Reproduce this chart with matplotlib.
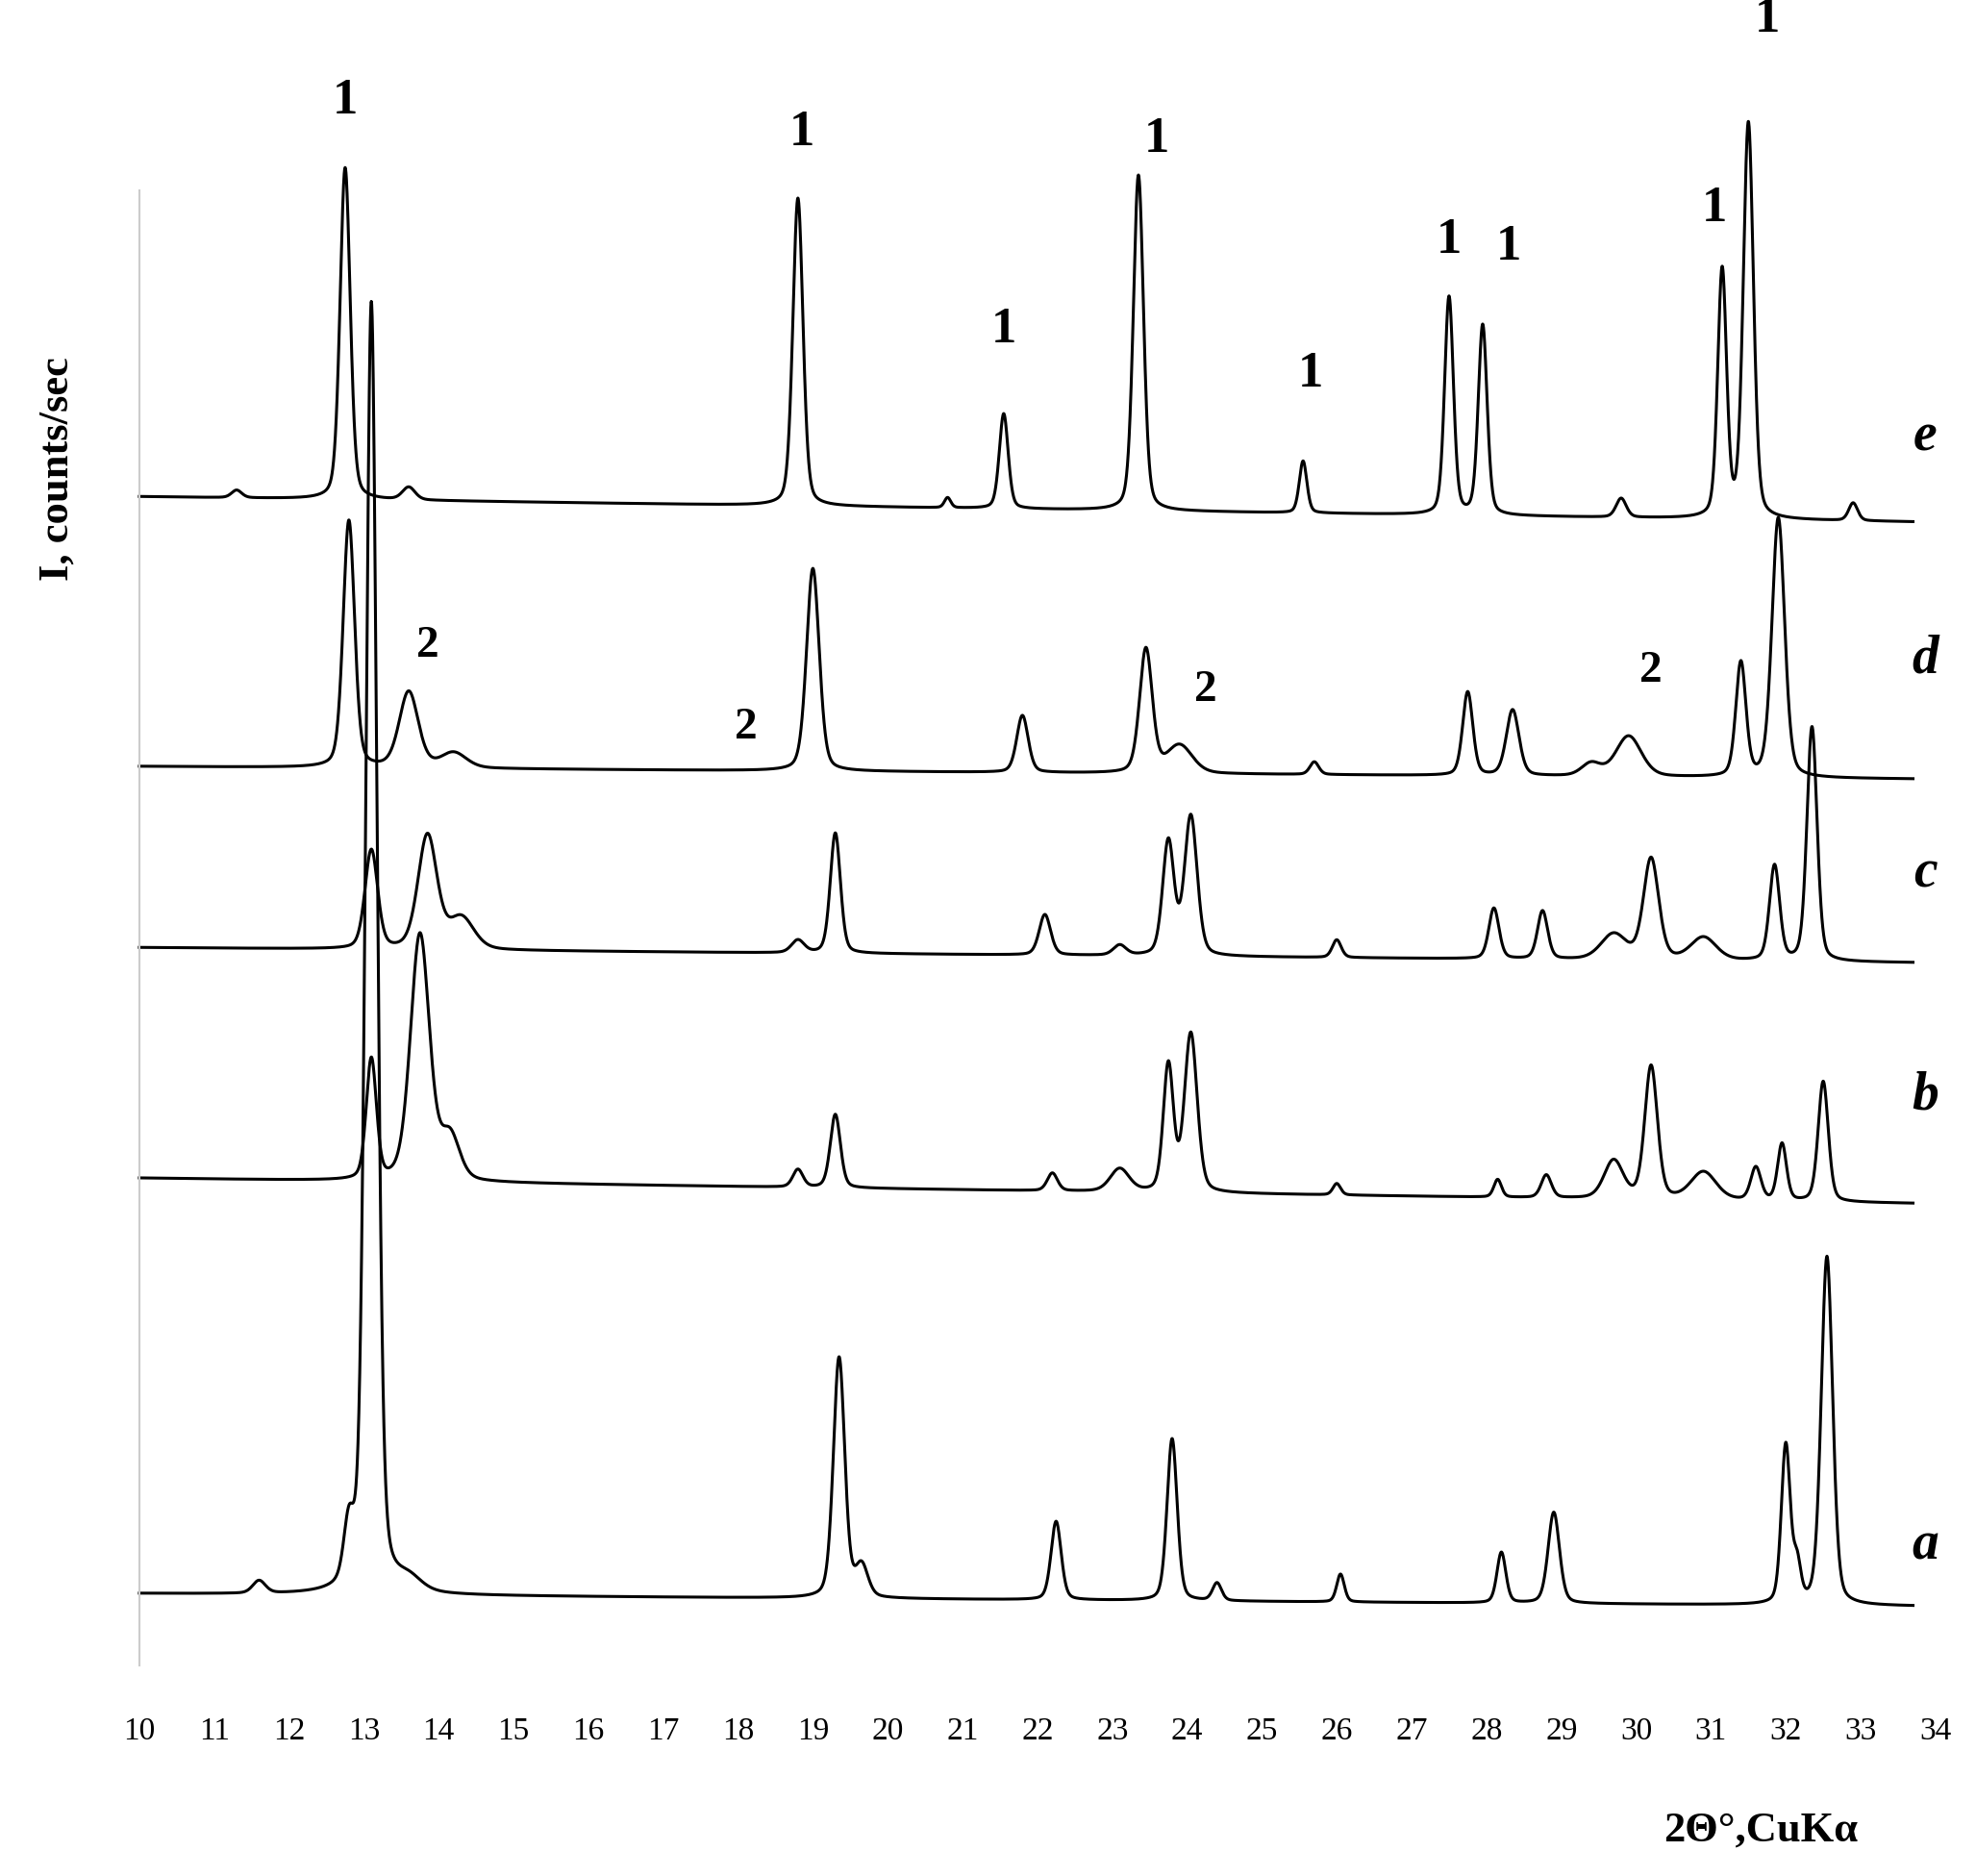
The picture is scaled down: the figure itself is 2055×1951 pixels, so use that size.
import numpy as np
import matplotlib
matplotlib.use("Agg")
import matplotlib.pyplot as plt

# peak lists: (position 2theta, height, half-width)
peaks_a = [(11.6,10,0.1),(12.8,45,0.08),(13.1,1020,0.09),(13.6,10,0.2),(19.35,190,0.09),(19.65,25,0.1),
           (22.25,62,0.08),(23.8,128,0.08),(24.4,14,0.07),(26.05,22,0.06),(28.2,40,0.07),(28.9,72,0.09),
           (32.0,125,0.07),(32.15,30,0.06),(32.55,275,0.09)]
peaks_b = [(13.1,95,0.08),(13.75,195,0.15),(14.15,35,0.15),(18.8,14,0.08),(19.3,58,0.08),(22.2,14,0.08),
           (23.1,18,0.15),(23.75,100,0.08),(24.05,125,0.1),(26.0,9,0.06),(28.15,14,0.06),(28.8,18,0.08),
           (29.7,30,0.15),(30.2,105,0.1),(30.9,22,0.2),(31.6,26,0.08),(31.95,45,0.07),(32.5,95,0.08)]
peaks_c = [(13.1,78,0.1),(13.85,90,0.15),(14.3,25,0.2),(18.8,10,0.1),(19.3,95,0.08),(22.1,32,0.09),
           (23.1,8,0.1),(23.75,90,0.09),(24.05,110,0.1),(26.0,14,0.07),(28.1,40,0.08),(28.75,38,0.08),
           (29.7,20,0.2),(30.2,80,0.12),(30.9,18,0.2),(31.85,75,0.08),(32.35,185,0.08)]
peaks_d = [(12.8,195,0.09),(13.6,60,0.15),(14.2,12,0.2),(19.0,160,0.1),(21.8,45,0.09),(23.45,98,0.1),
           (23.9,22,0.2),(25.7,10,0.07),(27.75,66,0.08),(28.35,52,0.1),(29.4,10,0.15),(29.9,32,0.2),
           (31.4,90,0.08),(31.9,205,0.1)]
peaks_e = [(11.3,6,0.08),(12.75,262,0.08),(13.6,10,0.1),(18.8,243,0.08),(20.8,8,0.05),(21.55,75,0.07),
           (23.35,265,0.08),(25.55,41,0.06),(27.5,172,0.07),(27.95,150,0.07),(29.8,15,0.08),
           (31.15,195,0.07),(31.5,312,0.08),(32.9,14,0.07)]
baselines = {"a": (1258, 1268), "b": (930, 950), "c": (748, 760), "d": (605, 615), "e": (392, 412)}
series = {"a": peaks_a, "b": peaks_b, "c": peaks_c, "d": peaks_d, "e": peaks_e}
xticks = list(range(10, 35))

fig = plt.figure(figsize=(20.55, 19.51), dpi=100)
H = 1481.0
ax = fig.add_axes([110/1560, 1-1315/H, (1528-110)/1560, (1315-150)/H])
ax.set_xlim(10, 34)
ax.set_ylim(-1315, -150)
x = np.linspace(10, 33.7, 8000)
for k, pk in series.items():
    b0, b1 = baselines[k]
    y = b0 + (b1 - b0) * (x - 10) / 23.7
    for p, h, w in pk:
        u = (x - p) / w
        prof = 0.7 * np.exp(-np.log(2) * u ** 2) + 0.3 / (1 + u ** 2)
        y = y - h * prof
    ax.plot(x, -y, color="black", lw=2.2, clip_on=False)

for s in ["top", "right", "bottom"]:
    ax.spines[s].set_visible(False)
ax.spines["left"].set_color("#cccccc")
ax.spines["left"].set_linewidth(1.5)
ax.set_yticks([])
ax.set_xticks(xticks)
ax.tick_params(axis="x", length=0, pad=38, labelsize=24)
for t in ax.get_xticklabels():
    t.set_fontfamily("Liberation Serif")

serif = "Liberation Serif"
ones = [(12.75,80),(18.85,105),(21.55,260),(23.6,110),(25.65,295),(27.5,190),(28.3,195),(31.05,165),(31.75,15)]
twos = [(13.85,510),(18.1,575),(24.25,545),(30.2,530)]
for px, py in ones:
    ax.text(px, -py, "1", fontsize=38, fontweight="bold", family=serif, ha="center", va="center", clip_on=False)
for px, py in twos:
    ax.text(px, -py, "2", fontsize=34, fontweight="bold", family=serif, ha="center", va="center", clip_on=False)
letters = [("e",345),("d",520),("c",690),("b",865),("a",1220)]
for l, py in letters:
    fig.text(1520/1560, 1-py/H, l, fontsize=40, fontweight="bold", fontstyle="italic", family=serif,
             ha="center", va="center")
fig.text(45/1560, 1-370/H, "I, counts/sec", rotation=90, fontsize=32, fontweight="bold", family=serif,
         ha="center", va="center")
fig.text(1390/1560, 1-1445/H, "2Θ°,CuKα", fontsize=32, fontweight="bold", family=serif, ha="center", va="center")
fig.savefig("out.png", dpi=100, facecolor="white")
